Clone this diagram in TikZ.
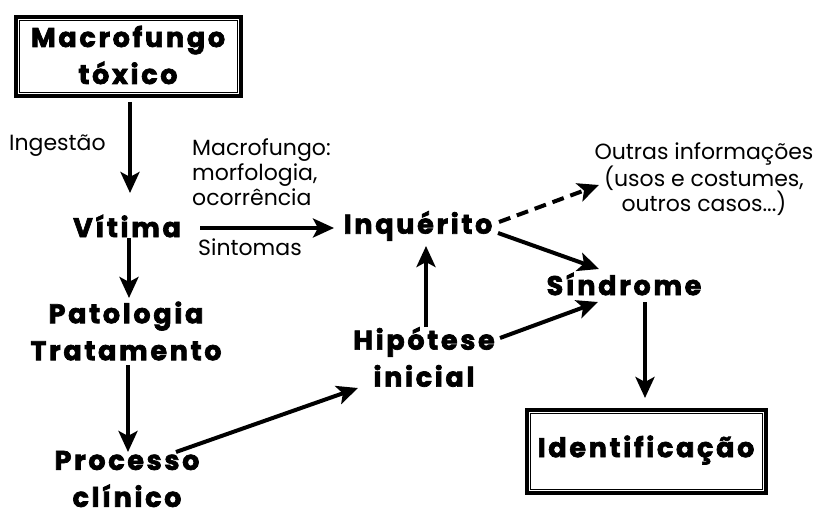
\documentclass[tikz,border=0pt]{standalone}
\usepackage{fontspec}
\setmainfont{Poppins}
\newfontfamily\heavy{Poppins}[LetterSpace=10]
\usetikzlibrary{arrows.meta}
\tikzset{
  big/.style={font=\heavy\bfseries\addfontfeature{FakeBold=2.5}\fontsize{27}{37}\selectfont, align=center, inner sep=0pt},
  small/.style={font=\fontsize{22}{25}\selectfont, inner sep=0pt},
  conn/.style={line width=4pt, -{Stealth[length=21pt,width=19pt,inset=5pt]}},
  outerbox/.style={draw, line width=4pt, inner sep=0pt},
}
\begin{document}
\begin{tikzpicture}[x=1pt,y=-1pt]
\useasboundingbox[fill=white] (0,0) rectangle (814,516);
% boxes
\node[outerbox, minimum width=225pt, minimum height=79pt] (b1) at (128.5,56.5) {};
\draw[line width=1.8pt] ([shift={(5.5pt,-5.5pt)}]b1.north west) rectangle ([shift={(-5.5pt,5.5pt)}]b1.south east);
\node[big] (mac) at (128,55) {Macrofungo\\tóxico};
\node[outerbox, minimum width=239pt, minimum height=83pt] (b2) at (646.5,451.5) {};
\draw[line width=1.8pt] ([shift={(5.5pt,-5.5pt)}]b2.north west) rectangle ([shift={(-5.5pt,5.5pt)}]b2.south east);
\node[big] (ide) at (646,450) {Identificação};
% main nodes
\node[big] (vit) at (127,226) {Vítima};
\node[big] (pat) at (126,331) {Patologia\\Tratamento};
\node[big] (pro) at (127,479) {Processo\\clínico};
\node[big] (inq) at (418,226) {Inquérito};
\node[big] (hip) at (424,357) {Hipótese\\inicial};
\node[big] (sin) at (624,284) {Síndrome};
% small labels
\node[small, anchor=west] (ing) at (9,146) {Ingestão};
\node[small, anchor=north west, align=left] (mor) at (192,138) {Macrofungo:\\morfologia,\\ocorrência};
\node[small] (sint) at (250,247) {Sintomas};
\node[small, align=center] (out) at (704,179) {Outras informações\\(usos e costumes,\\outros casos...)};
% connectors
\coordinate (a1s) at (130,102);
\coordinate (a1e) at (130,193);
\draw[conn] (a1s) -- (a1e);
\coordinate (a2s) at (129,238);
\coordinate (a2e) at (129,298);
\draw[conn] (a2s) -- (a2e);
\coordinate (a3s) at (128,365);
\coordinate (a3e) at (128,452);
\draw[conn] (a3s) -- (a3e);
\coordinate (a4s) at (176,452);
\coordinate (a4e) at (358,388);
\draw[conn] (a4s) -- (a4e);
\coordinate (a5s) at (426,327);
\coordinate (a5e) at (426,246);
\draw[conn] (a5s) -- (a5e);
\coordinate (a6s) at (200,228);
\coordinate (a6e) at (334,228);
\draw[conn] (a6s) -- (a6e);
\coordinate (a7s) at (499,222);
\coordinate (a7e) at (599,185);
\draw[conn, dash pattern=on 12pt off 7pt] (a7s) -- (a7e);
\coordinate (a8s) at (498,233);
\coordinate (a8e) at (599,269);
\draw[conn] (a8s) -- (a8e);
\coordinate (a9s) at (500,338);
\coordinate (a9e) at (598,302);
\draw[conn] (a9s) -- (a9e);
\coordinate (a10s) at (645,302);
\coordinate (a10e) at (645,398);
\draw[conn] (a10s) -- (a10e);
\end{tikzpicture}
\end{document}
